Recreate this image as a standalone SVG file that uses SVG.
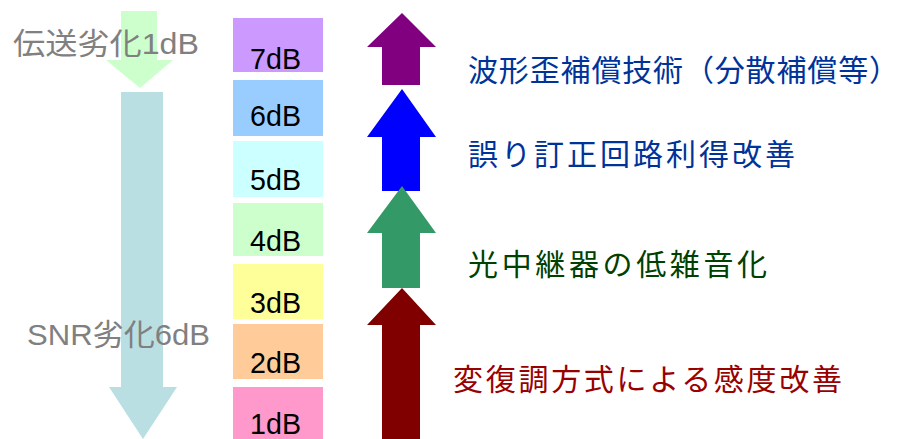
<svg xmlns="http://www.w3.org/2000/svg" width="902" height="439" viewBox="0 0 902 439">
<style>
.box{stroke:none}
.db{font-family:"Liberation Sans","Noto Sans",sans-serif;font-size:30px;fill:#000}
.gray{font-family:"Liberation Sans","Noto Sans CJK JP",sans-serif;font-size:30px;fill:#808080}
.lbl{font-family:"Noto Sans CJK JP","Liberation Sans",sans-serif;font-size:30px}
</style>
<rect width="902" height="439" fill="#fff"/>
<g id="connectors">
<polygon id="arrow-1db" points="121,11 157,11 157,60 173,60 140,88 106,60 121,60" fill="#CCFFCC"/>
<polygon id="arrow-6db" points="121,92 163,92 163,387 177,387 143,439 109,387 121,387" fill="#B9DFE3"/>
<polygon id="arrow-purple" points="402,13 436,47 420,47 420,85 382,85 382,47 367,47" fill="#800080"/>
<polygon id="arrow-blue" points="402,89 436,137 420,137 420,191 382,191 382,137 367,137" fill="#0000FF"/>
<polygon id="arrow-green" points="402,186 436,233 420,233 420,288 382,288 382,233 367,233" fill="#339966"/>
<polygon id="arrow-red" points="402,288 436,325 420,325 420,440 382,440 382,325 367,325" fill="#800000"/>
</g>
<g id="left-labels">
<text class="gray" x="13" y="54" textLength="186" lengthAdjust="spacingAndGlyphs">伝送劣化1dB</text>
<text class="gray" x="27" y="345" textLength="183" lengthAdjust="spacingAndGlyphs">SNR劣化6dB</text>
</g>
<g id="box7"><rect class="box" x="233" y="18" width="90" height="54" fill="#CC99FF"/><text class="db" x="250" y="69" textLength="51" lengthAdjust="spacingAndGlyphs">7dB</text></g>
<g id="box6"><rect class="box" x="233" y="80" width="90" height="56" fill="#99CCFF"/><text class="db" x="250" y="126" textLength="51" lengthAdjust="spacingAndGlyphs">6dB</text></g>
<g id="box5"><rect class="box" x="233" y="141" width="90" height="56" fill="#CCFFFF"/><text class="db" x="250" y="190" textLength="51" lengthAdjust="spacingAndGlyphs">5dB</text></g>
<g id="box4"><rect class="box" x="233" y="203" width="90" height="53" fill="#CCFFCC"/><text class="db" x="250" y="251" textLength="51" lengthAdjust="spacingAndGlyphs">4dB</text></g>
<g id="box3"><rect class="box" x="233" y="264" width="90" height="55" fill="#FFFF99"/><text class="db" x="250" y="313" textLength="51" lengthAdjust="spacingAndGlyphs">3dB</text></g>
<g id="box2"><rect class="box" x="233" y="324" width="90" height="55" fill="#FFCC99"/><text class="db" x="250" y="373" textLength="51" lengthAdjust="spacingAndGlyphs">2dB</text></g>
<g id="box1"><rect class="box" x="233" y="387" width="90" height="53" fill="#FF99CC"/><text class="db" x="250" y="434" textLength="51" lengthAdjust="spacingAndGlyphs">1dB</text></g>
<g id="right-labels">
<text class="lbl" x="468" y="81" fill="#003399" textLength="431" lengthAdjust="spacing">波形歪補償技術（分散補償等）</text>
<text class="lbl" x="468" y="165" fill="#003399" textLength="327" lengthAdjust="spacing">誤り訂正回路利得改善</text>
<text class="lbl" x="468" y="275" fill="#004000" textLength="299" lengthAdjust="spacing">光中継器の低雑音化</text>
<text class="lbl" x="453" y="390" fill="#990000" textLength="389" lengthAdjust="spacing">変復調方式による感度改善</text>
</g>
</svg>
